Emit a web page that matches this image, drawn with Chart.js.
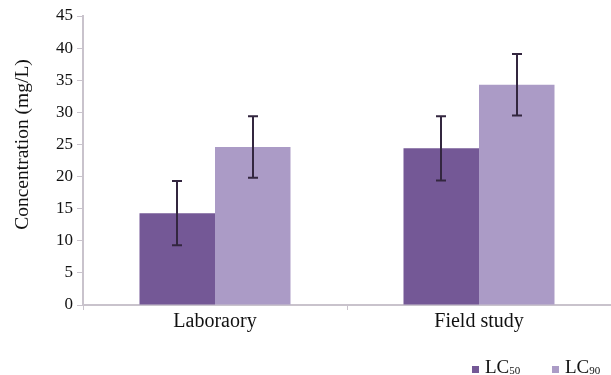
<!DOCTYPE html>
<html>
<head>
<meta charset="utf-8">
<script src="https://cdn.jsdelivr.net/npm/chart.js@4.4.0/dist/chart.umd.min.js"></script>
<style>
  html, body { margin: 0; padding: 0; background: #fff; }
</style>
</head>
<body>
<canvas id="visualChart" width="611" height="375"></canvas>
<script>
const categories = ["Laboraory", "Field study"];
const lc50 = [14.3, 24.4];
const lc90 = [24.6, 34.3];
const lc50Err = [5.0, 5.0];
const lc90Err = [4.8, 4.8];
const seriesNames = ["LC50", "LC90"];
const yTicks = [0, 5, 10, 15, 20, 25, 30, 35, 40, 45];
const yTitle = 'Concentration (mg/L)';

const darkPurple = '#745896';
const lightPurple = '#ab9bc6';
const axisColor = '#c9c3cc';
const textColor = '#111';
const serif = '"Liberation Serif", serif';

const chartBlock = document.querySelector('#visualChart').getContext('2d');

// error bars, from the error arrays through the y scale
const errorBars = {
    id: 'errorBars',
    afterDatasetsDraw(chart) {
        const ctx = chart.ctx;
        const yScale = chart.scales.y;
        ctx.save();
        ctx.strokeStyle = '#33263f';
        ctx.lineWidth = 2;
        chart.data.datasets.forEach((ds, i) => {
            chart.getDatasetMeta(i).data.forEach((bar, j) => {
                const v = ds.data[j];
                const e = ds.errors[j];
                const top = yScale.getPixelForValue(v + e);
                const bottom = yScale.getPixelForValue(v - e);
                const x = Math.round(bar.x);
                ctx.beginPath();
                ctx.moveTo(x, top);
                ctx.lineTo(x, bottom);
                ctx.moveTo(x - 5, top);
                ctx.lineTo(x + 5, top);
                ctx.moveTo(x - 5, bottom);
                ctx.lineTo(x + 5, bottom);
                ctx.stroke();
            });
        });
        ctx.restore();
    }
};

// y title (sits above centre in the original) and legend with subscripts
const extras = {
    id: 'extras',
    afterDraw(chart) {
        const ctx = chart.ctx;
        const area = chart.chartArea;
        ctx.save();
        ctx.fillStyle = textColor;
        ctx.translate(28, (area.top + area.bottom) / 2 - 16);
        ctx.rotate(-Math.PI / 2);
        ctx.font = `19.5px ${serif}`;
        ctx.textAlign = 'center';
        ctx.textBaseline = 'alphabetic';
        ctx.fillText(yTitle, 0, 0);
        ctx.restore();

        ctx.save();
        ctx.textBaseline = 'alphabetic';
        const starts = [472, 552];
        chart.data.datasets.forEach((ds, i) => {
            const x = starts[i];
            ctx.fillStyle = ds.backgroundColor;
            ctx.fillRect(x, 366, 7, 7);
            ctx.fillStyle = textColor;
            ctx.font = `19px ${serif}`;
            ctx.fillText(ds.label.slice(0, 2), x + 13, 373);
            const w = ctx.measureText(ds.label.slice(0, 2)).width;
            ctx.font = `11px ${serif}`;
            ctx.fillText(ds.label.slice(2), x + 13 + w, 374);
        });
        ctx.restore();
    }
};

const chart = new Chart(chartBlock, {
    type: 'bar',
    data: {
        labels: categories,
        datasets: [
            { label: seriesNames[0], data: lc50, errors: lc50Err, backgroundColor: darkPurple },
            { label: seriesNames[1], data: lc90, errors: lc90Err, backgroundColor: lightPurple }
        ]
    },
    options: {
        responsive: false,
        animation: false,
        layout: { padding: { top: 16, right: 0, bottom: 40, left: 0 } },
        datasets: { bar: { barPercentage: 1, categoryPercentage: 0.572 } },
        plugins: { legend: { display: false }, tooltip: { enabled: false } },
        scales: {
            x: {
                grid: { display: true, drawOnChartArea: false, color: axisColor, tickLength: 5, offset: true },
                border: { color: axisColor, width: 2 },
                ticks: { color: textColor, font: { family: serif, size: 20 }, padding: 0 },
                afterFit(scale) { scale.height = 30; }
            },
            y: {
                min: 0,
                max: 45,
                afterBuildTicks(scale) { scale.ticks = yTicks.map(v => ({ value: v })); },
                grid: { display: true, drawOnChartArea: false, color: axisColor, tickLength: 6 },
                border: { color: axisColor, width: 2 },
                ticks: { color: textColor, font: { family: serif, size: 17 }, padding: 4 },
                afterFit(scale) { scale.width = 83; }
            }
        }
    },
    plugins: [errorBars, extras]
});
</script>
</body>
</html>
